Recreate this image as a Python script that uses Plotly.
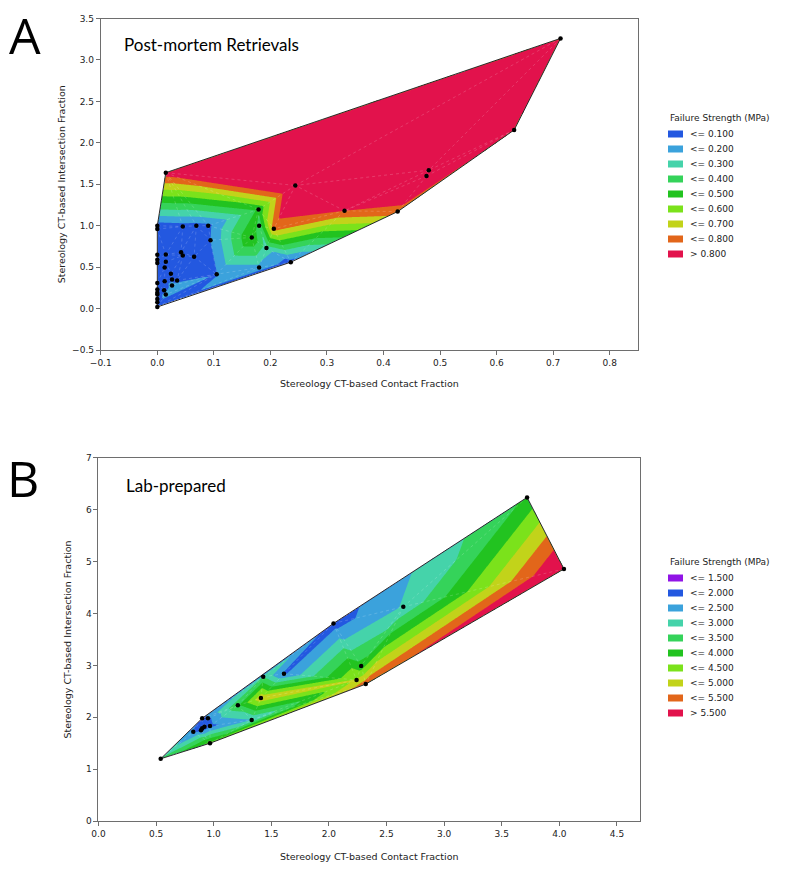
import numpy as np
import plotly.graph_objects as go

# ---------------- Panel A: Post-mortem Retrievals ----------------
A_contact = [0.000, 0.000, 0.000, 0.000, 0.000, 0.000, 0.000, 0.000, 0.000, 0.000,
             0.000, 0.000, 0.015, 0.713, 0.631, 0.480, 0.476, 0.425, 0.331, 0.244,
             0.179, 0.180, 0.206, 0.167, 0.193, 0.180, 0.236, 0.045, 0.069, 0.090,
             0.094, 0.015, 0.015, 0.042, 0.045, 0.065, 0.013, 0.024, 0.026, 0.035,
             0.105, 0.013, 0.026, 0.012, 0.015]
A_intersection = [0.020, 0.077, 0.117, 0.170, 0.190, 0.230, 0.310, 0.550, 0.590, 0.650,
                  0.960, 1.000, 1.640, 3.260, 2.155, 1.670, 1.600, 1.170, 1.180, 1.486,
                  1.196, 1.000, 0.963, 0.858, 0.730, 0.495, 0.560, 0.990, 1.000, 1.000,
                  0.826, 0.652, 0.564, 0.680, 0.640, 0.625, 0.495, 0.420, 0.350, 0.340,
                  0.415, 0.330, 0.278, 0.220, 0.170]
A_strength = [0.05, 0.05, 0.06, 0.06, 0.06, 0.07, 0.07, 0.07, 0.07, 0.07,
              0.06, 0.05, 0.86, 1.00, 0.82, 1.00, 0.98, 0.76, 0.80, 1.00,
              0.42, 0.33, 0.74, 0.50, 0.25, 0.17, 0.05, 0.05, 0.06, 0.07,
              0.10, 0.08, 0.08, 0.10, 0.08, 0.07, 0.07, 0.08, 0.09, 0.08,
              0.095, 0.08, 0.12, 0.07, 0.13]
A_levels = [0.1, 0.2, 0.3, 0.4, 0.5, 0.6, 0.7, 0.8]
A_labels = ["<= 0.100", "<= 0.200", "<= 0.300", "<= 0.400", "<= 0.500",
            "<= 0.600", "<= 0.700", "<= 0.800", "> 0.800"]

# ---------------- Panel B: Lab-prepared ----------------
B_contact = [0.540, 0.968, 0.823, 0.890, 0.900, 0.920, 0.968, 0.900, 0.950, 1.330,
             1.210, 1.410, 1.430, 1.610, 2.040, 2.646, 2.280, 2.240, 2.320, 3.720, 4.040]
B_intersection = [1.200, 1.500, 1.720, 1.750, 1.790, 1.820, 1.830, 1.980, 1.980, 1.950,
                  2.230, 2.370, 2.780, 2.840, 3.810, 4.130, 2.990, 2.720, 2.640, 6.240, 4.860]
B_strength = [3.1, 4.2, 1.9, 1.8, 1.8, 1.9, 1.85, 1.9, 1.85, 2.5,
              3.4, 4.9, 3.0, 1.9, 1.75, 2.55, 3.7, 4.6, 5.3, 3.6, 6.2]
B_levels = [1.5, 2.0, 2.5, 3.0, 3.5, 4.0, 4.5, 5.0, 5.5]
B_labels = ["<= 1.500", "<= 2.000", "<= 2.500", "<= 3.000", "<= 3.500",
            "<= 4.000", "<= 4.500", "<= 5.000", "<= 5.500", "> 5.500"]

BAND_COLORS = ["#2358e0", "#3ba2dc", "#45d3aa", "#35d35a", "#22c320",
               "#7be21b", "#c2d31a", "#e2661a", "#e2124c"]
A_colors = BAND_COLORS
B_colors = ["#9114e6"] + BAND_COLORS

LEGEND_TITLE = "Failure Strength (MPa)"
X_TITLE = "Stereology CT-based Contact Fraction"
Y_TITLE = "Stereology CT-based Intersection Fraction"


# ---------------- helpers: triangulated (TIN) surface ----------------
def _incircle(a, b, c, d):
    adx, ady = a[0] - d[0], a[1] - d[1]
    bdx, bdy = b[0] - d[0], b[1] - d[1]
    cdx, cdy = c[0] - d[0], c[1] - d[1]
    return ((adx * adx + ady * ady) * (bdx * cdy - cdx * bdy)
            - (bdx * bdx + bdy * bdy) * (adx * cdy - cdx * ady)
            + (cdx * cdx + cdy * cdy) * (adx * bdy - bdx * ady))


def _orient(a, b, c):
    return (b[0] - a[0]) * (c[1] - a[1]) - (b[1] - a[1]) * (c[0] - a[0])


def delaunay(P):
    n = len(P)
    cx, cy = np.mean(P[:, 0]), np.mean(P[:, 1])
    R = 50.0 * max(np.ptp(P[:, 0]), np.ptp(P[:, 1]))
    pts = [tuple(p) for p in P] + [(cx - 2 * R, cy - R), (cx + 2 * R, cy - R), (cx, cy + 2 * R)]
    tris = [(n, n + 1, n + 2)]
    for i in range(n):
        p = pts[i]
        bad = [t for t in tris if _incircle(pts[t[0]], pts[t[1]], pts[t[2]], p) > 0]
        cnt = {}
        for t in bad:
            for e in ((t[0], t[1]), (t[1], t[2]), (t[2], t[0])):
                k = tuple(sorted(e))
                cnt[k] = cnt.get(k, 0) + 1
        bset = set(bad)
        tris = [t for t in tris if t not in bset]
        for (a, b), c in cnt.items():
            if c == 1:
                if _orient(pts[a], pts[b], p) > 0:
                    tris.append((a, b, i))
                else:
                    tris.append((b, a, i))
    out = []
    for t in tris:
        if max(t) < n and abs(_orient(pts[t[0]], pts[t[1]], pts[t[2]])) > 1e-6:
            out.append(t)
    return out


def tin_grid(x, y, z, sx, sy, nx, ny):
    x = np.asarray(x, float); y = np.asarray(y, float); z = np.asarray(z, float)
    P = np.column_stack([x * sx, y * sy])
    tris = delaunay(P)
    gx = np.linspace(x.min(), x.max(), nx)
    gy = np.linspace(y.min(), y.max(), ny)
    GX, GY = np.meshgrid(gx * sx, gy * sy)
    Z = np.full((ny, nx), np.nan)
    for (i, j, k) in tris:
        a, b, c = P[i], P[j], P[k]
        det = (b[1] - c[1]) * (a[0] - c[0]) + (c[0] - b[0]) * (a[1] - c[1])
        x0, x1 = min(a[0], b[0], c[0]), max(a[0], b[0], c[0])
        y0, y1 = min(a[1], b[1], c[1]), max(a[1], b[1], c[1])
        ci = np.where((gx * sx >= x0 - 1e-7) & (gx * sx <= x1 + 1e-7))[0]
        ri = np.where((gy * sy >= y0 - 1e-7) & (gy * sy <= y1 + 1e-7))[0]
        if len(ci) == 0 or len(ri) == 0:
            continue
        X = GX[np.ix_(ri, ci)]; Y = GY[np.ix_(ri, ci)]
        l1 = ((b[1] - c[1]) * (X - c[0]) + (c[0] - b[0]) * (Y - c[1])) / det
        l2 = ((c[1] - a[1]) * (X - c[0]) + (a[0] - c[0]) * (Y - c[1])) / det
        l3 = 1 - l1 - l2
        tol = -1e-6
        m = (l1 >= tol) & (l2 >= tol) & (l3 >= tol)
        vals = l1 * z[i] + l2 * z[j] + l3 * z[k]
        sub = Z[np.ix_(ri, ci)]
        sub[m] = vals[m]
        Z[np.ix_(ri, ci)] = sub
    zl = [[None if np.isnan(v) else round(float(v), 4) for v in row] for row in Z]
    return gx.tolist(), gy.tolist(), zl, tris


def convex_hull(x, y):
    pts = sorted(set(zip(x, y)))

    def cross(o, a, b):
        return (a[0] - o[0]) * (b[1] - o[1]) - (a[1] - o[1]) * (b[0] - o[0])
    lower, upper = [], []
    for p in pts:
        while len(lower) >= 2 and cross(lower[-2], lower[-1], p) <= 0:
            lower.pop()
        lower.append(p)
    for p in reversed(pts):
        while len(upper) >= 2 and cross(upper[-2], upper[-1], p) <= 0:
            upper.pop()
        upper.append(p)
    h = lower[:-1] + upper[:-1]
    h.append(h[0])
    return [p[0] for p in h], [p[1] for p in h]


def step_scale(colors):
    n = len(colors)
    cs = []
    for i, c in enumerate(colors):
        cs.append([i / n, c])
        cs.append([(i + 1) / n, c])
    return cs


fig = go.Figure()

FONT = "DejaVu Sans"
TXT = "#222222"
AXC = "#6e6e6e"

A_dom_x = [0.1266, 0.8015]
A_dom_y = [0.5972, 0.9787]
B_dom_x = [0.1237, 0.8040]
B_dom_y = [0.0552, 0.4730]

panels = [
    dict(x=A_contact, y=A_intersection, z=A_strength, levels=A_levels, colors=A_colors,
         sx=566.0, sy=82.75, nx=420, ny=280, xa="x", ya="y"),
    dict(x=B_contact, y=B_intersection, z=B_strength, levels=B_levels, colors=B_colors,
         sx=115.2, sy=52.0, nx=420, ny=270, xa="x2", ya="y2"),
]

for p in panels:
    gx, gy, zz, tris = tin_grid(p["x"], p["y"], p["z"], p["sx"], p["sy"], p["nx"], p["ny"])
    lv = p["levels"]
    step = lv[1] - lv[0]
    nb = len(p["colors"])
    zmin = lv[0] - step
    zmax = zmin + nb * step
    fig.add_trace(go.Contour(
        x=gx, y=gy, z=zz, xaxis=p["xa"], yaxis=p["ya"],
        autocontour=False,
        contours=dict(start=lv[0], end=lv[-1], size=step, coloring="fill", showlines=False),
        line=dict(width=0),
        colorscale=step_scale(p["colors"]), zmin=zmin, zmax=zmax,
        showscale=False, connectgaps=False, hoverinfo="skip",
    ))
    edges = set()
    for t in tris:
        for e in ((t[0], t[1]), (t[1], t[2]), (t[2], t[0])):
            edges.add(tuple(sorted(e)))
    mx, my = [], []
    for a, b in sorted(edges):
        mx += [p["x"][a], p["x"][b], None]
        my += [p["y"][a], p["y"][b], None]
    fig.add_trace(go.Scatter(
        x=mx, y=my, xaxis=p["xa"], yaxis=p["ya"], mode="lines",
        line=dict(color="rgba(255,255,255,0.22)", width=0.8, dash="dot"),
        hoverinfo="skip", showlegend=False))
    hx, hy = convex_hull(p["x"], p["y"])
    fig.add_trace(go.Scatter(
        x=hx, y=hy, xaxis=p["xa"], yaxis=p["ya"], mode="lines",
        line=dict(color="#2a2a2a", width=1), hoverinfo="skip", showlegend=False))
    fig.add_trace(go.Scatter(
        x=p["x"], y=p["y"], xaxis=p["xa"], yaxis=p["ya"], mode="markers",
        marker=dict(color="black", size=4.5), showlegend=False))

axis_common = dict(showline=True, linecolor=AXC, linewidth=1, mirror=True, showgrid=False,
                   zeroline=False, ticks="outside", ticklen=4, tickcolor=AXC, automargin=False,
                   tickfont=dict(family=FONT, size=9, color=TXT))
title_font = dict(family=FONT, size=9.5, color=TXT)

fig.update_layout(
    template="none",
    width=796, height=869, margin=dict(l=0, r=0, t=0, b=0, autoexpand=False),
    paper_bgcolor="white", plot_bgcolor="white", showlegend=False,
    xaxis=dict(domain=A_dom_x, range=[-0.1, 0.85], dtick=0.1, tick0=0, tickformat=".1f",
               anchor="y", title=dict(text=X_TITLE, font=title_font, standoff=13), **axis_common),
    yaxis=dict(domain=A_dom_y, range=[-0.5, 3.5], dtick=0.5, tick0=0, tickformat=".1f",
               anchor="x", title=dict(text=Y_TITLE, font=title_font, standoff=4), **axis_common),
    xaxis2=dict(domain=B_dom_x, range=[0, 4.7], dtick=0.5, tick0=0, tickformat=".1f",
                anchor="y2", title=dict(text=X_TITLE, font=title_font, standoff=15), **axis_common),
    yaxis2=dict(domain=B_dom_y, range=[0, 7], dtick=1, tick0=0, tickformat="d",
                anchor="x2", title=dict(text=Y_TITLE, font=title_font, standoff=12), **axis_common),
)

W, H = 796.0, 869.0
ann = []
shapes = []
ann.append(dict(text="A", x=25 / W, y=1 - 35 / H, xref="paper", yref="paper", showarrow=False,
                xanchor="center", yanchor="middle", font=dict(family="Open Sans", size=50, color="black")))
ann.append(dict(text="B", x=23 / W, y=1 - 478 / H, xref="paper", yref="paper", showarrow=False,
                xanchor="center", yanchor="middle", font=dict(family="Open Sans", size=50, color="black")))
ann.append(dict(text="Post-mortem Retrievals", x=122 / W, y=1 - 45 / H, xref="paper", yref="paper",
                showarrow=False, xanchor="left", yanchor="middle",
                font=dict(family="Lato", size=17, color="black")))
ann.append(dict(text="Lab-prepared", x=124 / W, y=1 - 485 / H, xref="paper", yref="paper",
                showarrow=False, xanchor="left", yanchor="middle",
                font=dict(family="Lato", size=17, color="black")))


def add_legend(title_y, row0, labels, colors):
    sx0, sx1, tx = 668.0, 683.0, 688.0
    ann.append(dict(text=LEGEND_TITLE, x=sx0 / W, y=1 - title_y / H, xref="paper", yref="paper",
                    showarrow=False, xanchor="left", yanchor="middle",
                    font=dict(family=FONT, size=9, color=TXT)))
    for k, (lab, col) in enumerate(zip(labels, colors)):
        yc = row0 + 15.0 * k
        shapes.append(dict(type="rect", xref="paper", yref="paper",
                           x0=sx0 / W, x1=sx1 / W, y0=1 - (yc + 3.5) / H, y1=1 - (yc - 3.5) / H,
                           fillcolor=col, line=dict(width=0)))
        ann.append(dict(text=lab, x=tx / W, y=1 - yc / H, xref="paper", yref="paper",
                        showarrow=False, xanchor="left", yanchor="middle",
                        font=dict(family=FONT, size=9, color=TXT)))


add_legend(118, 134, A_labels, A_colors)
add_legend(562, 578, B_labels, B_colors)

fig.update_layout(annotations=ann, shapes=shapes)
fig.write_html("out.html", config={"displayModeBar": False},
               post_script="document.body.style.margin='0px';document.body.style.padding='0px';")
